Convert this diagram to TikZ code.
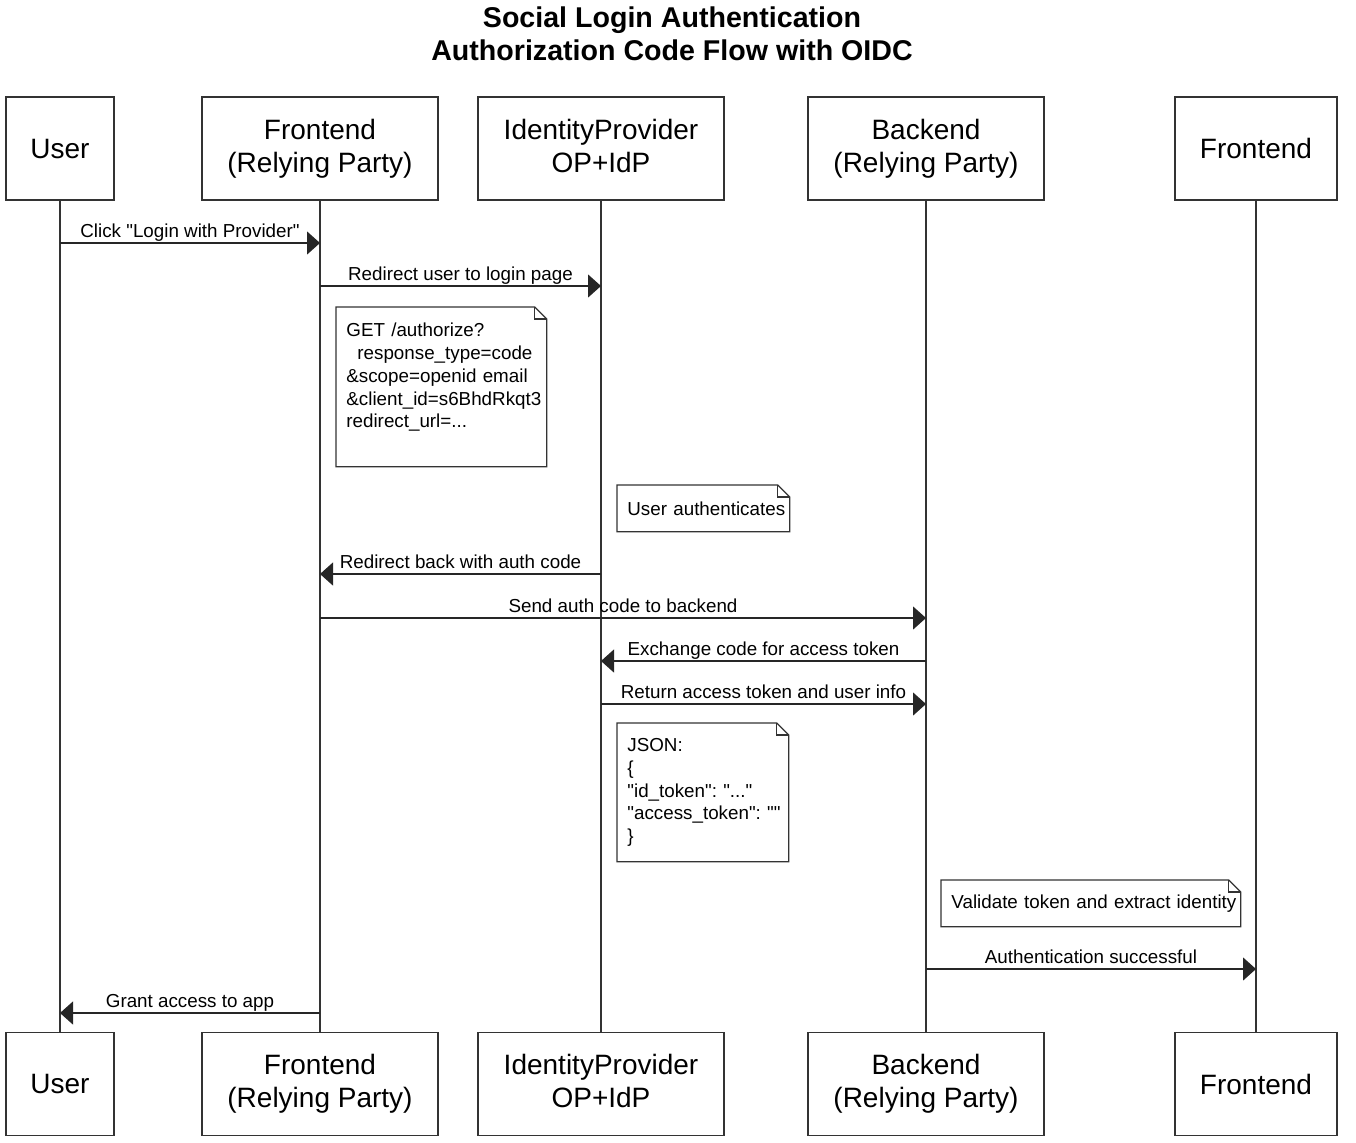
\documentclass[tikz,border=0pt]{standalone}
\usepackage{fontspec}
\setmainfont{Liberation Sans}
\usetikzlibrary{arrows.meta}
\frenchspacing

\tikzset{
  title/.style={align=center, font=\bfseries\fontsize{14.3}{16.5}\selectfont},
  party/.style={draw=black!80, line width=0.75pt, minimum width=#1, minimum height=51.5pt,
    align=center, inner sep=0pt, font=\fontsize{14}{16.5}\selectfont},
  life/.style={draw=black!80, line width=0.7pt},
  msg/.style={draw=black!85, line width=0.6pt, -{Triangle[length=6.5pt,width=11.5pt]}},
  lbl/.style={above=0pt, inner sep=0.35pt, text height=7pt, text depth=2pt,
    font=\fontsize{9.4}{11.3}\selectfont},
  note/.style={anchor=north west, align=left, inner xsep=5pt, inner ysep=0pt,
    font=\fontsize{9.4}{11.35}\selectfont},
  notebd/.style={draw=black!80, line width=0.6pt}
}
\newcommand{\dogear}[1]{%
  \draw[notebd] (#1.north west) -- ([xshift=-6pt]#1.north east)
    -- ([yshift=-6pt]#1.north east) -- (#1.south east) -- (#1.south west) -- cycle;
  \draw[notebd] ([xshift=-6pt]#1.north east) |- ([yshift=-6pt]#1.north east);}
\newcommand{\qt}{\textquotedbl}

\begin{document}
\begin{tikzpicture}[x=0.5pt,y=-0.5pt]
    \useasboundingbox (0,0) rectangle (1356,1142);
    \node[title] (title) at (672,34) {Social Login Authentication\\Authorization Code Flow with OIDC};
    % participants
    \node[party=54pt]  (user-top)   at (60,148.5)   {User};
    \node[party=118pt] (front-top)  at (320,148.5)  {Frontend\\(Relying Party)};
    \node[party=123pt] (idp-top)    at (601,148.5)  {IdentityProvider\\OP+IdP\vphantom{(y}};
    \node[party=118pt] (back-top)   at (926,148.5)  {Backend\\(Relying Party)};
    \node[party=81pt]  (frontR-top) at (1256,148.5) {Frontend};
    \node[party=54pt]  (user-bot)   at (60,1084)    {User};
    \node[party=118pt] (front-bot)  at (320,1084)   {Frontend\\(Relying Party)};
    \node[party=123pt] (idp-bot)    at (601,1084)   {IdentityProvider\\OP+IdP\vphantom{(y}};
    \node[party=118pt] (back-bot)   at (926,1084)   {Backend\\(Relying Party)};
    \node[party=81pt]  (frontR-bot) at (1256,1084)  {Frontend};
    \foreach \p in {user,front,idp,back,frontR}
      \draw[life] (\p-top.south) -- (\p-bot.north);
    % message rows
    \coordinate (m1) at (0,243);
    \coordinate (m2) at (0,286);
    \coordinate (m3) at (0,574);
    \coordinate (m4) at (0,618);
    \coordinate (m5) at (0,661);
    \coordinate (m6) at (0,704);
    \coordinate (m7) at (0,969);
    \coordinate (m8) at (0,1013);
    \draw[msg] (user-top |- m1) -- (front-top |- m1) node[lbl,midway] {Click \qt Login with Provider\qt};
    \draw[msg] (front-top |- m2) -- (idp-top |- m2) node[lbl,midway] {Redirect user to login page};
    \draw[msg] (idp-top |- m3) -- (front-top |- m3) node[lbl,midway] {Redirect back with auth code};
    \draw[msg] (front-top |- m4) -- (back-top |- m4) node[lbl,midway] {Send auth code to backend};
    \draw[msg] (back-top |- m5) -- (idp-top |- m5) node[lbl,midway] {Exchange code for access token};
    \draw[msg] (idp-top |- m6) -- (back-top |- m6) node[lbl,midway] {Return access token and user info};
    \draw[msg] (back-top |- m7) -- (frontR-top |- m7) node[lbl,midway] {Authentication successful};
    \draw[msg] (front-top |- m8) -- (user-top |- m8) node[lbl,midway] {Grant access to app};
    % notes
    \node[note, minimum width=105pt, minimum height=79.5pt, text width=95pt] (authreq) at (336,307)
      {GET /authorize?\\\hspace*{5.5pt}response\_type=code\\\&scope=openid email\\\&client\_id=s6BhdRkqt3\\redirect\_url=...\\\mbox{}};
    \dogear{authreq}
    \node[note, minimum width=86pt, minimum height=23pt, text width=76pt] (authn) at (617,485)
      {\mbox{User authenticates}};
    \dogear{authn}
    \node[note, minimum width=85.5pt, minimum height=69pt, text width=75.5pt] (json) at (617,723)
      {JSON:\\\{\\\mbox{\qt id\_token\qt: \qt...\qt}\\\mbox{\qt access\_token\qt: \qt\qt}\\\}};
    \dogear{json}
    \node[note, minimum width=149.5pt, minimum height=23pt, text width=139.5pt] (validate) at (941,880)
      {\mbox{Validate token and extract identity}};
    \dogear{validate}
\end{tikzpicture}
\end{document}
